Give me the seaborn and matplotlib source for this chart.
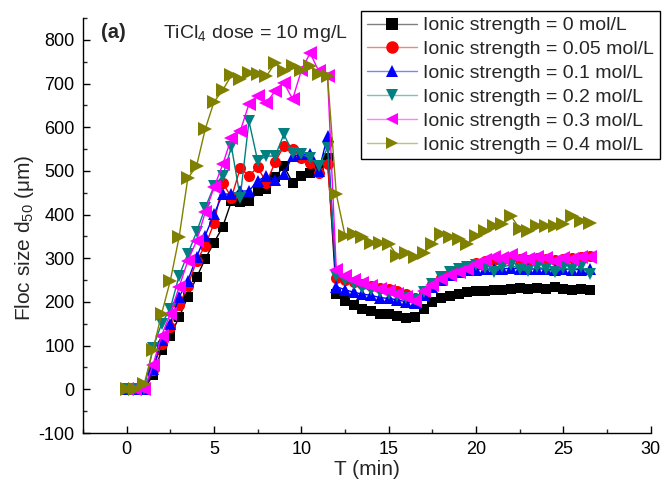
import numpy as np
import pandas as pd
import matplotlib
matplotlib.use("Agg")
import matplotlib.pyplot as plt
import seaborn as sns
from matplotlib.ticker import MultipleLocator

time_min = [i * 0.5 for i in range(54)]

is_0 = [0, 0, 0, 32, 89, 123, 165, 212, 256, 299, 336, 372, 431, 428, 431, 454, 459, 485,
        511, 473, 488, 496, 507, 530, 219, 203, 192, 185, 180, 173, 173, 168, 164, 165,
        185, 200, 208, 214, 218, 222, 224, 226, 227, 228, 230, 231, 230, 232, 230, 235,
        230, 228, 229, 228]
is_005 = [0, 0, 0, 45, 104, 142, 192, 237, 294, 329, 380, 473, 439, 506, 489, 508, 473, 520,
          557, 550, 530, 519, 496, 516, 255, 250, 245, 240, 237, 232, 230, 225, 218, 210,
          220, 240, 255, 265, 275, 282, 290, 293, 296, 295, 300, 298, 296, 300, 298, 295,
          298, 300, 302, 305]
is_01 = [0, 0, 0, 47, 112, 150, 211, 249, 302, 352, 401, 447, 447, 454, 454, 477, 489, 480,
         493, 534, 538, 538, 500, 580, 235, 228, 222, 218, 215, 210, 208, 205, 200, 198,
         215, 235, 250, 262, 268, 272, 274, 275, 276, 276, 277, 276, 275, 276, 275, 274,
         275, 274, 274, 275]
is_02 = [0, 0, 0, 95, 150, 185, 260, 310, 360, 416, 465, 489, 555, 439, 614, 523, 534, 534,
         584, 542, 538, 530, 511, 553, 260, 250, 240, 232, 228, 222, 218, 214, 210, 205,
         222, 240, 258, 268, 276, 280, 285, 278, 268, 280, 285, 275, 270, 280, 275, 268,
         278, 272, 280, 265]
is_03 = [0, 0, 0, 55, 123, 173, 234, 294, 340, 405, 462, 515, 576, 591, 653, 671, 656, 683,
         702, 664, 730, 770, 728, 717, 272, 260, 250, 243, 236, 230, 226, 219, 211, 203,
         226, 238, 252, 262, 268, 276, 288, 295, 303, 300, 308, 300, 298, 302, 300, 294,
         300, 298, 302, 302]
is_04 = [0, 0, 12, 89, 173, 249, 348, 483, 511, 596, 658, 685, 719, 710, 724, 721, 717, 747,
         728, 740, 732, 740, 721, 717, 447, 352, 355, 349, 336, 336, 333, 306, 313, 302,
         313, 333, 355, 348, 344, 333, 352, 363, 374, 378, 397, 367, 363, 374, 374, 374,
         378, 397, 386, 380]

labels = ["Ionic strength = 0 mol/L", "Ionic strength = 0.05 mol/L",
          "Ionic strength = 0.1 mol/L", "Ionic strength = 0.2 mol/L",
          "Ionic strength = 0.3 mol/L", "Ionic strength = 0.4 mol/L"]
series = [is_0, is_005, is_01, is_02, is_03, is_04]
colors = ["#000000", "#ff0000", "#0000ff", "#008080", "#ff00ff", "#808000"]
markers = ["s", "o", "^", "v", "<", ">"]
msizes = [7.5, 8, 9, 9, 9.5, 9.5]

sns.set_style("ticks")
plt.rcParams["font.family"] = ["Liberation Sans", "DejaVu Sans"]
plt.rcParams["mathtext.fontset"] = "custom"
plt.rcParams["mathtext.rm"] = "Liberation Sans"
plt.rcParams["mathtext.it"] = "Liberation Sans"
plt.rcParams["axes.unicode_minus"] = False

fig = plt.figure(figsize=(6.64, 5.0), dpi=100)
ax = fig.add_axes([0.125, 0.134, 0.855, 0.83])

for lab, vals, c, m, ms in zip(labels, series, colors, markers, msizes):
    df = pd.DataFrame({"T": time_min, "d50": vals})
    sns.lineplot(data=df, x="T", y="d50", ax=ax, color=c, marker=m, markersize=ms,
                 markeredgecolor=c, markeredgewidth=0, linewidth=1.0, label=lab)

ax.set_xlim(-2.5, 30)
ax.set_ylim(-100, 850)
ax.xaxis.set_major_locator(MultipleLocator(5))
ax.xaxis.set_minor_locator(MultipleLocator(2.5))
ax.set_yticks(range(-100, 801, 100))
ax.yaxis.set_minor_locator(MultipleLocator(50))
ax.tick_params(axis="both", which="major", direction="in", length=5, width=1,
               labelsize=13, colors="black", pad=6)
ax.tick_params(axis="both", which="minor", direction="in", length=3, width=1)
sns.despine(ax=ax)
for s in ["left", "bottom"]:
    ax.spines[s].set_linewidth(1.0)
    ax.spines[s].set_color("black")

ax.set_xlabel("T (min)", fontsize=15)
ax.xaxis.set_label_coords(0.5, -0.064)
ax.set_ylabel(r"Floc size d$_{50}$ ($\mathrm{\mu}$m)", fontsize=15)
ax.yaxis.set_label_coords(-0.083, 0.47)

ax.text(0.032, 0.988, "(a)", transform=ax.transAxes, fontsize=14.5, fontweight="bold",
        va="top", ha="left")
ax.text(0.141, 0.988, r"TiCl$_4$ dose = 10 mg/L", transform=ax.transAxes,
        fontsize=14, va="top", ha="left")

leg = ax.legend(loc="upper right", bbox_to_anchor=(0.994, 0.978),
                bbox_transform=fig.transFigure, fontsize=14, frameon=True,
                fancybox=False, edgecolor="black", framealpha=1, handlelength=2.6,
                borderpad=0.3, labelspacing=0.32, handletextpad=0.3, borderaxespad=0)
leg.get_frame().set_linewidth(1.0)
for line in leg.get_lines():
    c = line.get_color()
    line.set_color(matplotlib.colors.to_rgba(c, 0.5))
    line.set_markerfacecolor(c)
    line.set_markeredgecolor(c)
    line.set_markersize(9)

fig.savefig("out.png", dpi=100)
